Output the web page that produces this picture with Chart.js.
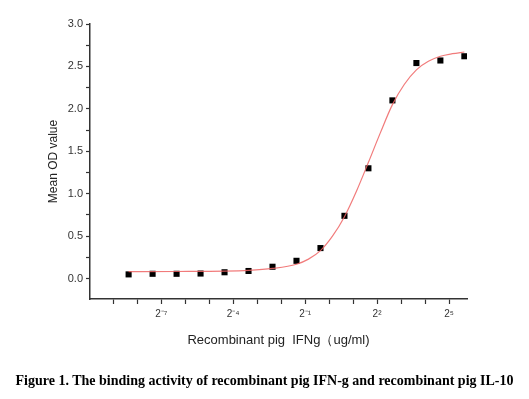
<!DOCTYPE html>
<html>
<head>
<meta charset="utf-8">
<script src="https://cdn.jsdelivr.net/npm/chart.js@4"></script>
<style>
  body { margin: 0; background: #fff; }
  #wrap { position: relative; width: 529px; height: 399px; }
  #caption {
    position: absolute; left: 0; top: 373px; width: 529px;
    text-align: center; font: bold 14px "Liberation Serif", "Times New Roman", serif;
    color: #000; white-space: nowrap;
  }
</style>
</head>
<body>
<div id="wrap">
  <canvas id="chart" width="529" height="399"></canvas>
  <div id="caption">Figure 1. The binding activity of recombinant pig IFN-g and recombinant pig IL-10</div>
</div>

<script>
  // concentrations as log2(ug/ml), 2-fold dilutions from 50 ug/ml
  const doseLog2 = [-8.36, -7.36, -6.36, -5.36, -4.36, -3.36, -2.36, -1.36, -0.36, 0.64, 1.64, 2.64, 3.64, 4.64, 5.64]
  const meanOD = [0.05, 0.057, 0.057, 0.06, 0.075, 0.09, 0.14, 0.21, 0.36, 0.74, 1.30, 2.10, 2.54, 2.57, 2.62]

  // fitted curve
  const fitX = [-8.36, -6.36, -4.36, -3.36, -2.36, -1.36, -0.86, -0.36, 0.14, 0.64, 1.14, 1.64, 2.14, 2.64, 3.14, 3.64, 4.14, 4.64, 5.14, 5.64]
  const fitY = [0.083, 0.084, 0.088, 0.097, 0.12, 0.17, 0.23, 0.33, 0.50, 0.73, 1.03, 1.37, 1.72, 2.05, 2.29, 2.46, 2.56, 2.62, 2.65, 2.67]

  const xTicks = [-9, -8, -7, -6, -5, -4, -3, -2, -1, 0, 1, 2, 3, 4, 5]
  const xTickLabels = { '-7': '2⁻⁷', '-4': '2⁻⁴', '-1': '2⁻¹', '2': '2²', '5': '2⁵' }
  const yTicks = [0, 0.25, 0.5, 0.75, 1, 1.25, 1.5, 1.75, 2, 2.25, 2.5, 2.75, 3]

  const axisColor = '#333'
  const font = "'Liberation Sans', Arial, sans-serif"

  new Chart(document.getElementById('chart'), {
    type: 'scatter',
    data: {
      datasets: [
        {
          type: 'line',
          label: 'fit',
          data: fitX.map((x, i) => ({ x: x, y: fitY[i] })),
          borderColor: 'rgba(238, 100, 100, 0.85)',
          borderWidth: 1.2,
          pointRadius: 0,
          fill: false,
          cubicInterpolationMode: 'monotone'
        },
        {
          label: 'Mean OD',
          data: doseLog2.map((x, i) => ({ x: x, y: meanOD[i] })),
          pointStyle: 'rect',
          pointRadius: 4.3,
          backgroundColor: '#000',
          borderColor: '#000',
          borderWidth: 0
        }
      ]
    },
    options: {
      responsive: false,
      animation: false,
      layout: { padding: { left: 44, top: 24, right: 62, bottom: 40 } },
      plugins: { legend: { display: false }, tooltip: { enabled: false } },
      scales: {
        x: {
          type: 'linear',
          min: -9.97,
          max: 5.75,
          afterFit: s => { s.height = 60 },
          afterBuildTicks: s => { s.ticks = xTicks.map(v => ({ value: v })) },
          border: { color: axisColor, width: 1.5 },
          grid: { drawOnChartArea: false, drawTicks: true, tickLength: 5, color: axisColor, tickWidth: 1.2 },
          ticks: {
            autoSkip: false,
            maxRotation: 0,
            padding: 4,
            color: '#333',
            font: { family: font, size: 10 },
            callback: v => xTickLabels[String(v)] || ''
          },
          title: {
            display: true,
            text: 'Recombinant pig  IFNg（ug/ml)',
            color: '#222',
            font: { family: font, size: 13 },
            padding: { top: 6, bottom: 11 }
          }
        },
        y: {
          min: -0.24,
          max: 3.0,
          afterFit: s => { s.width = 46 },
          afterBuildTicks: s => { s.ticks = yTicks.map(v => ({ value: v })) },
          border: { color: axisColor, width: 1.5 },
          grid: { drawOnChartArea: false, drawTicks: true, tickLength: 4, color: axisColor, tickWidth: 1.2 },
          ticks: {
            autoSkip: false,
            padding: 3,
            color: '#333',
            font: { family: font, size: 11 },
            callback: v => (Math.round(v * 100) % 50 === 0 ? v.toFixed(1) : '')
          },
          title: {
            display: true,
            text: 'Mean OD value',
            color: '#222',
            font: { family: font, size: 12 },
            padding: { top: 2, bottom: 2 }
          }
        }
      }
    }
  })
</script>
</body>
</html>
